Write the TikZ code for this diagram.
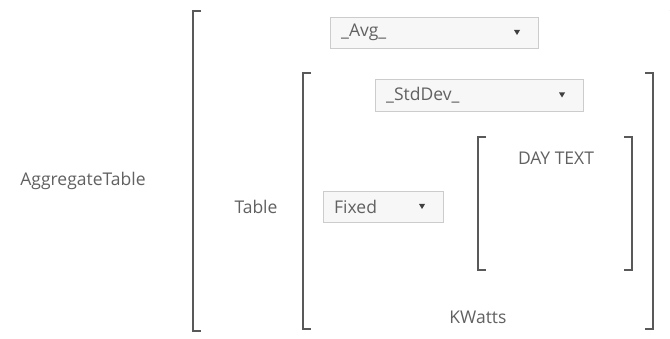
\documentclass[tikz,border=0pt]{standalone}
\usepackage{fontspec}
\setmainfont{Open Sans}
\begin{document}
\begin{tikzpicture}[x=1pt,y=-1pt,
  txt/.style={text=black!62, font=\fontsize{17.5}{20}\selectfont, inner sep=0pt},
  bracketline/.style={draw=black!65, line width=2pt},
  dropbox/.style={draw=black!20, fill=black!3, line width=0.8pt},
  droptip/.style={fill=black!75, draw=none}]
\useasboundingbox (0,0) rectangle (670,339);
\fill[white] (0,0) rectangle (670,339);

% Brackets
\newcommand{\lbrk}[3]{\draw[bracketline] (#1+8,#2) -- (#1,#2) -- (#1,#3) -- (#1+8,#3);}
\newcommand{\rbrk}[3]{\draw[bracketline] (#1-8,#2) -- (#1,#2) -- (#1,#3) -- (#1-8,#3);}
\lbrk{193}{11}{331}
\begin{scope}
  \clip (0,0) rectangle (670,339);
  \rbrk{677.5}{11}{331}
\end{scope}
\lbrk{303}{73}{329}
\rbrk{653}{73}{329}
\lbrk{478}{137}{270}
\rbrk{632}{137}{270}

% Dropdowns
\newcommand{\dropdown}[6]{%
  \draw[dropbox] (#1,#2) rectangle (#3,#4);
  \node[txt, anchor=west] (#6) at (#1+11,{(#2+#4)/2}) {#5};
  \fill[droptip] (#3-24,{(#2+#4)/2-2.5}) -- (#3-18,{(#2+#4)/2-2.5}) -- (#3-21,{(#2+#4)/2+2.5}) -- cycle;}
\dropdown{330}{17}{538}{48}{\_Avg\_}{avg}
\dropdown{375}{79}{583}{111}{\_StdDev\_}{stddev}
\dropdown{323}{191}{443}{222}{Fixed}{fixed}

% Labels
\node[txt] (agg) at (83,181) {AggregateTable};
\node[txt] (tbl) at (256,207) {Table};
\node[txt] (day) at (556,158) {DAY TEXT};
\node[txt] (kw) at (478,317) {KWatts};
\end{tikzpicture}
\end{document}
